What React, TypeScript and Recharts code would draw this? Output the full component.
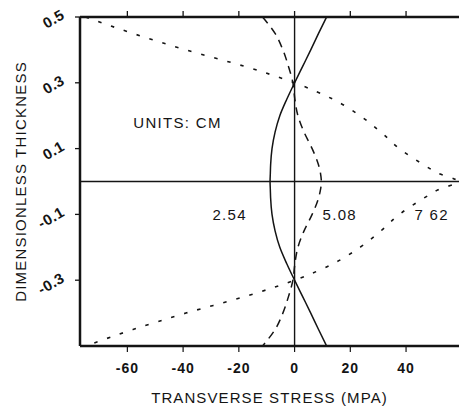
import React from "react";
import { LineChart, Line, XAxis, YAxis, ReferenceLine, ReferenceDot } from "recharts";

// dimensionless thickness through the section, top face to bottom face
const thickness = [
  0.5, 0.45, 0.4, 0.35, 0.3, 0.25, 0.2, 0.15, 0.1, 0.05, 0.025, 0,
  -0.025, -0.05, -0.1, -0.15, -0.2, -0.25, -0.3, -0.35, -0.4, -0.45, -0.5,
];

// transverse stress (MPa) for each slab thickness
const stress254 = [
  11.5, 8.6, 5.8, 2.9, 0, -2.8, -5.3, -7.0, -8.1, -8.6, -8.7, -8.8,
  -8.7, -8.6, -8.1, -7.0, -5.3, -2.8, 0, 2.9, 5.8, 8.6, 11.5,
];
const stress508 = [
  -11.5, -7.0, -4.2, -2.2, -0.6, 0.1, 1.2, 3.4, 6.3, 8.6, 9.3, 9.6,
  9.3, 8.6, 6.3, 3.4, 1.2, 0.1, -0.6, -2.2, -4.2, -7.0, -11.5,
];
const stress762 = [
  -75, -58, -39, -18, 0, 13.8, 23.5, 31, 37.6, 46.5, 51.5, 58.5,
  51.5, 46.5, 37.6, 31, 23.5, 13.8, 0, -18, -39, -58, -75,
];

const xTicks = [-60, -40, -20, 0, 20, 40];
const yTicks = [0.5, 0.3, 0.1, -0.1, -0.3];

const notes = [
  { text: "UNITS: CM", x: -42, y: 0.176 },
  { text: "2.54", x: -23.3, y: -0.105 },
  { text: "5.08", x: 16.2, y: -0.105 },
  { text: "7 62", x: 49.2, y: -0.105 },
];

const rows = thickness.map((t, i) => ({
  t,
  s254: stress254[i],
  s508: stress508[i],
  s762: stress762[i],
}));

const INK = "#141414";
const FONT = "'Liberation Sans', Arial, Helvetica, sans-serif";
const X_DOMAIN = [-77, 59];

// slanted value labels on the thickness axis, tick mark drawn here too
function YTick(props: any) {
  const { x, y, payload } = props;
  const axisX = x + 16;
  const ax = x - 1;
  const ay = y - 4;
  return (
    <g>
      <line x1={axisX - 5} y1={y} x2={axisX} y2={y} stroke={INK} strokeWidth={1.3} />
      <text
        x={ax}
        y={ay}
        textAnchor="end"
        dominantBaseline="central"
        transform={`rotate(-30, ${ax}, ${ay})`}
        fontFamily={FONT}
        fontSize={15}
        fontWeight="bold"
        letterSpacing={0.5}
        fill={INK}
      >
        {payload.value}
      </text>
    </g>
  );
}

// tick marks only, pointing up from the top frame line
function TopTick(props: any) {
  const { x } = props;
  return <line x1={x} y1={11} x2={x} y2={17} stroke={INK} strokeWidth={1.3} />;
}

function NoteLabel(props: any) {
  const { viewBox, text } = props;
  return (
    <text
      x={viewBox.x + (viewBox.width || 0) / 2}
      y={viewBox.y + (viewBox.height || 0) / 2}
      textAnchor="middle"
      dominantBaseline="middle"
      fontFamily={FONT}
      fontSize={15}
      letterSpacing={1.3}
      fill={INK}
    >
      {text}
    </text>
  );
}

function XTitle(props: any) {
  const { viewBox } = props;
  return (
    <text
      x={viewBox.x + viewBox.width / 2}
      y={403}
      textAnchor="middle"
      fontFamily={FONT}
      fontSize={15}
      letterSpacing={1.1}
      fill={INK}
    >
      TRANSVERSE STRESS (MPA)
    </text>
  );
}

function YTitle(props: any) {
  const { viewBox } = props;
  const cx = 22;
  const cy = viewBox.y + viewBox.height / 2;
  return (
    <text
      x={cx}
      y={cy}
      textAnchor="middle"
      dominantBaseline="middle"
      transform={`rotate(-90 ${cx} ${cy})`}
      fontFamily={FONT}
      fontSize={15}
      letterSpacing={1.2}
      fill={INK}
    >
      DIMENSIONLESS THICKNESS
    </text>
  );
}

export default function App() {
  return (
    <div style={{ width: 459, height: 412, background: "#fff" }}>
      <style>{`body{margin:0}`}</style>
      <LineChart
        width={459}
        height={412}
        data={rows}
        layout="vertical"
        margin={{ top: 0, right: 0, bottom: 0, left: 0 }}
      >
        <XAxis
          type="number"
          dataKey="s254"
          domain={X_DOMAIN}
          allowDataOverflow
          ticks={xTicks}
          height={66}
          axisLine={{ stroke: INK, strokeWidth: 2.5 }}
          tickLine={{ stroke: INK, strokeWidth: 1.2 }}
          tickSize={6}
          tickMargin={11}
          tick={{ fill: INK, fontSize: 14, fontWeight: "bold", fontFamily: FONT, letterSpacing: 1 }}
          label={<XTitle />}
        />
        <XAxis
          xAxisId="top"
          orientation="top"
          type="number"
          dataKey="s762"
          domain={X_DOMAIN}
          allowDataOverflow
          ticks={xTicks}
          height={17}
          axisLine={{ stroke: INK, strokeWidth: 2.5 }}
          tickLine={false}
          tick={<TopTick />}
        />
        <YAxis
          type="number"
          dataKey="t"
          domain={[-0.5, 0.5]}
          reversed
          ticks={yTicks}
          width={80}
          axisLine={{ stroke: INK, strokeWidth: 2.5 }}
          tickLine={false}
          tickSize={5}
          tickMargin={11}
          tick={<YTick />}
          label={<YTitle />}
        />
        <ReferenceLine x={0} stroke={INK} strokeWidth={1.4} />
        <ReferenceLine y={0} stroke={INK} strokeWidth={1.4} />
        <Line
          dataKey="s254"
          type="monotone"
          stroke={INK}
          strokeWidth={1.5}
          dot={false}
          isAnimationActive={false}
        />
        <Line
          dataKey="s508"
          type="monotone"
          stroke={INK}
          strokeWidth={1.5}
          strokeDasharray="8 6"
          dot={false}
          isAnimationActive={false}
        />
        <Line
          xAxisId="top"
          dataKey="s762"
          type="monotone"
          stroke={INK}
          strokeWidth={1.6}
          strokeDasharray="3.5 10"
          dot={false}
          isAnimationActive={false}
        />
        {notes.map((n) => (
          <ReferenceDot
            key={n.text}
            x={n.x}
            y={n.y}
            r={0}
            stroke="none"
            fill="none"
            label={<NoteLabel text={n.text} />}
          />
        ))}
      </LineChart>
    </div>
  );
}
